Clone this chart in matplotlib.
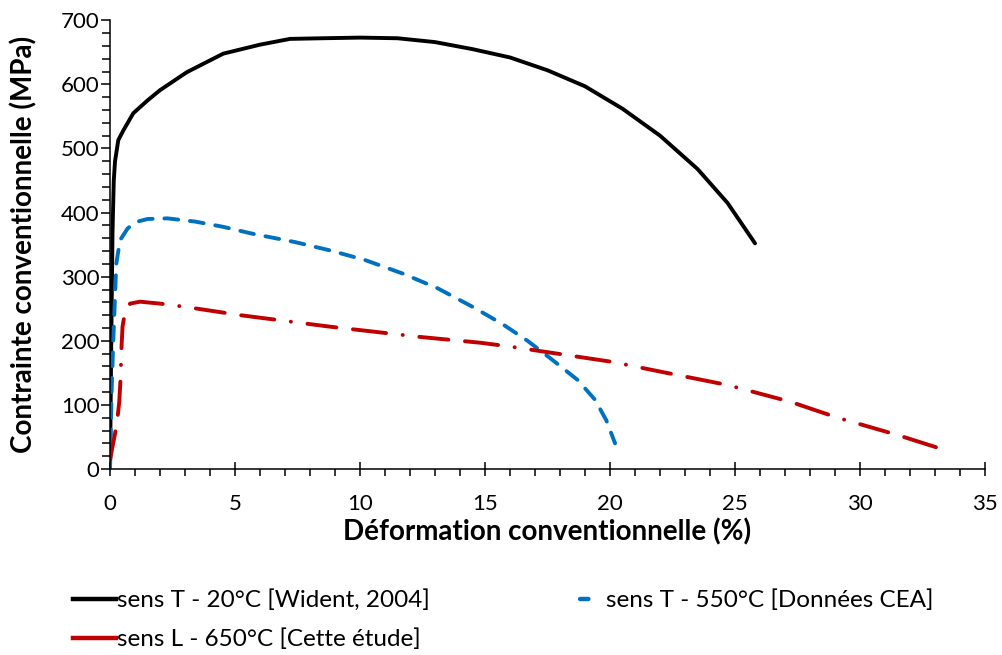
import matplotlib
matplotlib.use('Agg')
import matplotlib.pyplot as plt
from matplotlib.lines import Line2D
from matplotlib.ticker import MultipleLocator

plt.rcParams['font.family'] = ['Lato', 'DejaVu Sans']
plt.rcParams['lines.scale_dashes'] = False

# Courbes de traction (deformation %, contrainte MPa)
x_20 = [0, 0.05, 0.1, 0.15, 0.2, 0.33, 0.53, 0.93, 1.5, 2.0, 3.07, 4.53, 6.0, 7.2,
        8.5, 10.0, 11.5, 13.0, 14.5, 16.0, 17.5, 19.0, 20.5, 22.0, 23.5, 24.7, 25.8]
y_20 = [0, 200, 370, 450, 480, 513, 528, 555, 575, 591, 619, 648, 662, 671,
        672, 673, 672, 666, 655, 642, 622, 597, 562, 520, 468, 415, 352]

x_550 = [0, 0.03, 0.07, 0.13, 0.2, 0.25, 0.4, 0.7, 1.0, 1.5, 2.3, 3.4, 4.5, 5.7,
         7.4, 8.8, 10.2, 11.7, 13.1, 14.5, 15.7, 16.7, 17.7, 18.7, 19.4, 19.85, 20.2]
y_550 = [0, 60, 130, 200, 270, 320, 357, 375, 385, 390, 391, 386, 378, 367,
         354, 341, 326, 305, 282, 253, 226, 200, 170, 139, 108, 76, 40]

x_650 = [0, 0.1, 0.2, 0.3, 0.37, 0.42, 0.46, 0.5, 0.6, 0.8, 1.2, 2.0, 3.0, 5.2,
         8.8, 12.4, 14.8, 16.0, 20.1, 22.0, 24.7, 27.2, 29.1, 31.5, 33.6]
y_650 = [14, 35, 55, 80, 105, 140, 190, 222, 245, 258, 261, 258, 253, 240,
         222, 206, 197, 191, 167, 152, 131, 105, 80, 53, 27]

labels = ['sens T - 20°C [Wident, 2004]',
          'sens T - 550°C [Données CEA]',
          'sens L - 650°C [Cette étude]']

BLUE = '#0070C0'
RED = '#C00000'

fig = plt.figure(figsize=(10.02, 6.55), dpi=100)
ax = fig.add_axes([0.1098, 0.284, 0.8733, 0.685])

ax.plot(x_20, y_20, color='black', lw=2.8, solid_capstyle='round')
ax.plot(x_550, y_550, color=BLUE, lw=2.8, dashes=(10, 8.5),
        dash_capstyle='round')
ax.plot(x_650, y_650, color=RED, lw=2.8,
        dashes=(21, 12, 24, 12, 0.1, 12), dash_capstyle='round')

ax.set_xlim(0, 35)
ax.set_ylim(0, 700)
ax.xaxis.set_major_locator(MultipleLocator(5))
ax.xaxis.set_minor_locator(MultipleLocator(1))
ax.yaxis.set_major_locator(MultipleLocator(100))
ax.yaxis.set_minor_locator(MultipleLocator(20))

for s in ['top', 'right']:
    ax.spines[s].set_visible(False)
for s in ['left', 'bottom']:
    ax.spines[s].set_linewidth(1.1)

ax.tick_params(axis='x', which='major', direction='inout', length=10, width=1.1,
               labelsize=16, pad=13)
ax.tick_params(axis='x', which='minor', direction='out', length=5, width=1.1)
ax.tick_params(axis='y', which='major', direction='out', length=6.5, width=1.1,
               labelsize=16, pad=1)
ax.tick_params(axis='y', which='minor', direction='out', length=6, width=1.1)

ax.set_xlabel('Déformation conventionnelle (%)', fontsize=20,
              fontweight='bold', labelpad=3)
ax.set_ylabel('Contrainte conventionnelle (MPa)', fontsize=20,
              fontweight='bold', labelpad=17)

# poignees de legende comme dans Excel
h1 = Line2D([], [], color='black', lw=3.2)
h2 = Line2D([], [], color=BLUE, lw=3.2, linestyle=(33, (6, 40)),
            dash_capstyle='round')
h3 = Line2D([], [], color=RED, lw=3.2)

fig.legend([h1, h3, h2], [labels[0], labels[2], labels[1]], ncol=2,
           loc='upper left', bbox_to_anchor=(0.073, 0.1), frameon=False,
           fontsize=17.5, handlelength=1.75, handletextpad=0.05,
           columnspacing=5.45, labelspacing=0.72, borderaxespad=0,
           borderpad=0)

fig.savefig('out.png', dpi=100)
